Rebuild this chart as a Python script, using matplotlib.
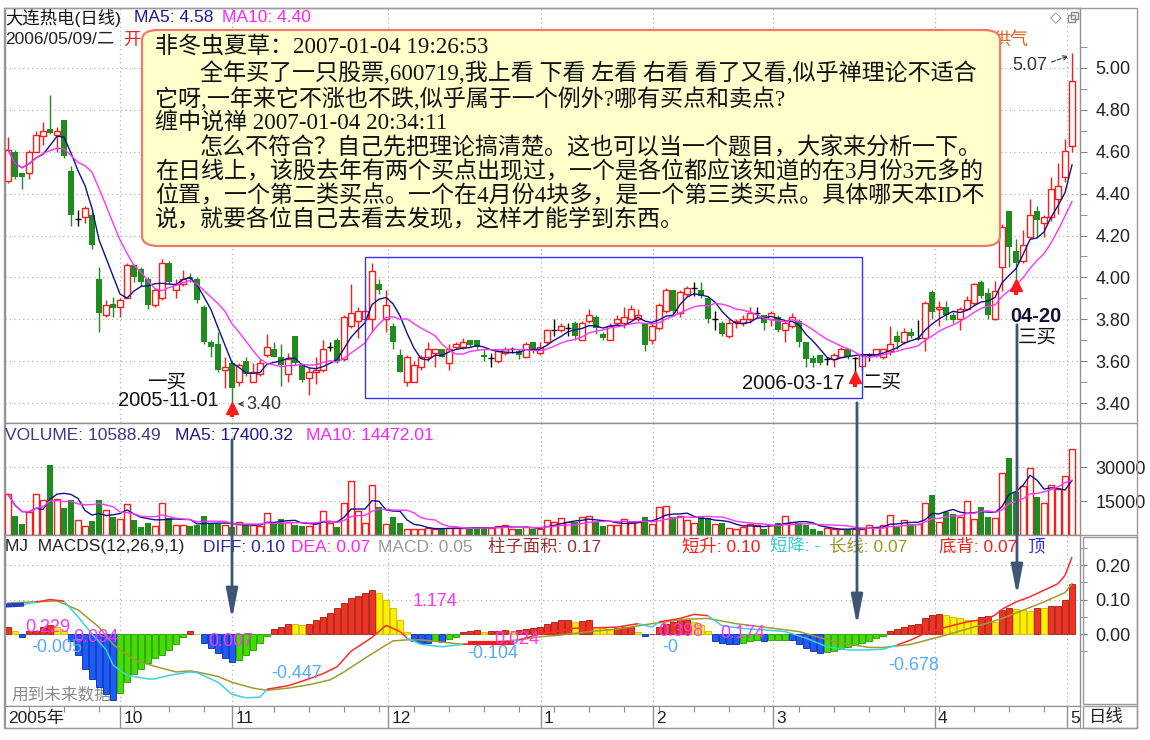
import numpy as np
import pandas as pd
import matplotlib
matplotlib.use("Agg")
import matplotlib.pyplot as plt
from matplotlib.patches import Rectangle, FancyBboxPatch, FancyArrowPatch
from matplotlib.collections import LineCollection
from matplotlib.lines import Line2D

plt.rcParams['font.family'] = ['Liberation Sans', 'Noto Sans CJK SC', 'DejaVu Sans']

W, H = 1150, 740

# ---- 日线数据 (2005-09 ~ 2006-05-09) ----
opens = [
    4.46, 4.60, 4.50, 4.50, 4.60, 4.675, 4.71, 4.68, 4.75, 4.51,
    4.28, 4.29, 4.30, 3.99, 3.82, 3.875, 3.86, 3.90, 4.06, 4.04,
    3.99, 3.87, 3.90, 4.07, 3.94, 3.97, 4.00, 3.99, 3.86, 3.69,
    3.68, 3.56, 3.59, 3.50, 3.60, 3.50, 3.54, 3.63, 3.66, 3.62,
    3.54, 3.72, 3.58, 3.52, 3.55, 3.56, 3.67, 3.70, 3.61, 3.77,
    3.79, 3.80, 3.80, 3.97, 3.80, 3.77, 3.63, 3.50, 3.50, 3.57,
    3.62, 3.64, 3.66, 3.59, 3.67, 3.67, 3.70, 3.70, 3.63, 3.616,
    3.60, 3.64, 3.656, 3.65, 3.62, 3.69, 3.64, 3.69, 3.75, 3.75,
    3.76, 3.78, 3.70, 3.79, 3.81, 3.73, 3.70, 3.78, 3.78, 3.80,
    3.80, 3.78, 3.70, 3.76, 3.84, 3.94, 3.83, 3.92, 3.95, 3.94,
    3.90, 3.80, 3.78, 3.72, 3.785, 3.78, 3.80, 3.83, 3.82, 3.80,
    3.81, 3.75, 3.77, 3.79, 3.69, 3.616, 3.63, 3.61, 3.61, 3.62,
    3.66, 3.616, 3.576, 3.63, 3.63, 3.62, 3.65, 3.72, 3.69, 3.74,
    3.71, 3.71, 3.93, 3.85, 3.86, 3.82, 3.80, 3.85, 3.877, 3.98,
    3.926, 3.80, 4.05, 4.317, 4.125, 4.077, 4.195, 4.317, 4.26, 4.288,
    4.376, 4.48, 4.627]
highs = [
    4.67, 4.61, 4.50, 4.61, 4.70, 4.74, 4.87, 4.72, 4.75, 4.53,
    4.32, 4.34, 4.31, 4.05, 3.89, 3.905, 3.90, 4.07, 4.065, 4.05,
    4.00, 3.95, 4.09, 4.08, 3.99, 4.035, 4.02, 4.00, 3.87, 3.70,
    3.74, 3.62, 3.60, 3.59, 3.62, 3.59, 3.61, 3.73, 3.69, 3.68,
    3.64, 3.72, 3.59, 3.57, 3.62, 3.70, 3.69, 3.71, 3.82, 3.97,
    3.86, 3.86, 4.07, 3.99, 3.94, 3.78, 3.66, 3.63, 3.60, 3.63,
    3.69, 3.66, 3.66, 3.68, 3.69, 3.71, 3.70, 3.70, 3.66, 3.64,
    3.66, 3.67, 3.67, 3.66, 3.69, 3.69, 3.69, 3.755, 3.80, 3.78,
    3.78, 3.79, 3.79, 3.85, 3.82, 3.74, 3.78, 3.82, 3.86, 3.87,
    3.85, 3.78, 3.78, 3.88, 3.95, 3.94, 3.94, 3.96, 3.98, 3.98,
    3.91, 3.84, 3.79, 3.80, 3.80, 3.82, 3.86, 3.86, 3.82, 3.84,
    3.82, 3.79, 3.83, 3.80, 3.69, 3.63, 3.63, 3.62, 3.64, 3.67,
    3.66, 3.62, 3.64, 3.64, 3.66, 3.66, 3.77, 3.745, 3.76, 3.76,
    3.795, 3.885, 3.94, 3.885, 3.885, 3.836, 3.86, 3.91, 3.975, 3.987,
    3.95, 3.984, 4.256, 4.317, 4.184, 4.227, 4.376, 4.34, 4.30, 4.48,
    4.544, 4.66, 5.07]
lows = [
    4.45, 4.47, 4.42, 4.47, 4.60, 4.63, 4.685, 4.60, 4.57, 4.245,
    4.245, 4.26, 4.136, 3.74, 3.81, 3.81, 3.81, 3.90, 3.98, 3.96,
    3.85, 3.86, 3.89, 3.97, 3.90, 3.96, 3.98, 3.88, 3.68, 3.62,
    3.55, 3.47, 3.40, 3.48, 3.53, 3.50, 3.53, 3.62, 3.62, 3.48,
    3.50, 3.58, 3.50, 3.44, 3.49, 3.55, 3.65, 3.59, 3.60, 3.76,
    3.71, 3.79, 3.74, 3.92, 3.74, 3.66, 3.55, 3.48, 3.50, 3.56,
    3.60, 3.57, 3.62, 3.56, 3.66, 3.66, 3.67, 3.66, 3.60, 3.57,
    3.59, 3.63, 3.64, 3.61, 3.62, 3.64, 3.63, 3.68, 3.72, 3.74,
    3.72, 3.70, 3.70, 3.78, 3.73, 3.70, 3.70, 3.77, 3.76, 3.80,
    3.79, 3.65, 3.68, 3.75, 3.83, 3.82, 3.81, 3.91, 3.91, 3.90,
    3.78, 3.75, 3.72, 3.71, 3.76, 3.77, 3.78, 3.81, 3.75, 3.77,
    3.74, 3.69, 3.76, 3.67, 3.57, 3.57, 3.58, 3.58, 3.57, 3.62,
    3.61, 3.55, 3.56, 3.60, 3.62, 3.61, 3.63, 3.66, 3.68, 3.71,
    3.70, 3.65, 3.80, 3.77, 3.795, 3.78, 3.75, 3.845, 3.87, 3.90,
    3.80, 3.795, 3.936, 4.048, 3.99, 4.07, 4.19, 4.195, 4.195, 4.27,
    4.304, 4.456, 4.60]
closes = [
    4.61, 4.48, 4.48, 4.60, 4.68, 4.70, 4.69, 4.70, 4.58, 4.30,
    4.28, 4.33, 4.157, 3.83, 3.87, 3.855, 3.89, 4.06, 4.00, 3.98,
    3.87, 3.94, 4.07, 3.98, 3.97, 3.99, 3.99, 3.89, 3.69, 3.67,
    3.56, 3.57, 3.47, 3.58, 3.54, 3.55, 3.59, 3.67, 3.62, 3.58,
    3.61, 3.59, 3.51, 3.55, 3.56, 3.66, 3.67, 3.60, 3.81, 3.83,
    3.84, 3.84, 4.03, 3.94, 3.87, 3.69, 3.55, 3.62, 3.58, 3.62,
    3.66, 3.66, 3.62, 3.66, 3.68, 3.69, 3.675, 3.67, 3.62, 3.616,
    3.65, 3.66, 3.656, 3.63, 3.68, 3.65, 3.67, 3.75, 3.75, 3.77,
    3.76, 3.72, 3.78, 3.82, 3.76, 3.71, 3.77, 3.80, 3.81, 3.85,
    3.82, 3.675, 3.77, 3.87, 3.94, 3.84, 3.93, 3.95, 3.95, 3.91,
    3.80, 3.80, 3.73, 3.78, 3.79, 3.80, 3.83, 3.83, 3.78, 3.83,
    3.75, 3.78, 3.81, 3.69, 3.61, 3.59, 3.59, 3.61, 3.63, 3.66,
    3.62, 3.616, 3.63, 3.63, 3.656, 3.66, 3.68, 3.69, 3.74, 3.72,
    3.71, 3.88, 3.836, 3.86, 3.82, 3.795, 3.85, 3.89, 3.967, 3.91,
    3.82, 3.934, 4.24, 4.144, 4.07, 4.157, 4.296, 4.275, 4.288, 4.42,
    4.435, 4.605, 4.94]
volumes = [
    17900, 8400, 4700, 10100, 17900, 15400, 30700, 16000, 12000, 15400,
    6600, 4000, 6000, 15400, 11000, 8100, 6900, 13800, 6500, 3700,
    5400, 4000, 14000, 7600, 4300, 4400, 4000, 4300, 8400, 4700,
    4700, 4300, 3500, 5700, 4300, 4400, 4000, 9800, 5100, 6900,
    5900, 4600, 4000, 4000, 5400, 10600, 5400, 3500, 14000, 23800,
    10600, 5400, 22000, 12500, 4900, 7900, 5100, 2800, 2800, 2500,
    3200, 2800, 2800, 3200, 3200, 3200, 3200, 3200, 3200, 3200,
    4000, 4300, 2800, 2800, 3700, 2500, 2800, 6500, 5700, 7400,
    5700, 5700, 7900, 8400, 5700, 4000, 4400, 4500, 6900, 5700,
    5700, 7900, 5000, 12500, 12800, 7900, 8400, 6600, 5400, 8400,
    7400, 5000, 5400, 3200, 2800, 3700, 5000, 4300, 2800, 4300,
    5400, 8400, 5900, 5400, 4400, 2800, 1800, 3200, 2500, 2500,
    2800, 2800, 2800, 4300, 3500, 4300, 8800, 3500, 6500, 4700,
    4700, 14000, 17500, 5700, 10100, 9100, 8100, 15000, 6900, 12500,
    7900, 7600, 27500, 34100, 19000, 21600, 29400, 16900, 14300, 21900,
    20100, 26000, 38100]
macd_bar = [
    0.02, 0.01, -0.01, 0.01, 0.01, 0.02, 0.025, 0.02, 0.01, -0.02,
    -0.06, -0.10, -0.13, -0.155, -0.175, -0.19, -0.17, -0.14, -0.115, -0.10,
    -0.085, -0.07, -0.06, -0.045, -0.03, -0.01, 0.008, 0.0, -0.025, -0.04,
    -0.055, -0.07, -0.08, -0.075, -0.06, -0.045, -0.025, -0.005, 0.015, 0.02,
    0.03, 0.028, 0.027, 0.03, 0.04, 0.05, 0.06, 0.075, 0.09, 0.105,
    0.11, 0.12, 0.127, 0.12, 0.10, 0.075, 0.04, 0.005, -0.02, -0.025,
    -0.025, -0.02, -0.022, -0.015, -0.01, 0.005, 0.01, 0.012, 0.005, 0.008,
    0.01, 0.012, 0.01, 0.012, 0.015, 0.018, 0.02, 0.028, 0.035, 0.04,
    0.042, 0.035, 0.038, 0.04, 0.02, 0.018, 0.015, 0.018, 0.02, 0.02,
    0.005, -0.006, 0.0, 0.02, 0.03, 0.035, 0.04, 0.042, 0.035, 0.025,
    0.01, -0.02, -0.025, -0.03, -0.03, -0.025, -0.02, -0.018, -0.02, -0.018,
    -0.017, -0.016, -0.018, -0.03, -0.04, -0.05, -0.055, -0.052, -0.048, -0.043,
    -0.038, -0.032, -0.027, -0.02, -0.012, -0.005, 0.01, 0.015, 0.02, 0.025,
    0.03, 0.045, 0.055, 0.058, 0.055, 0.05, 0.045, 0.042, 0.04, 0.05,
    0.052, 0.035, 0.07, 0.075, 0.072, 0.07, 0.068, 0.075, 0.074, 0.08,
    0.08, 0.10, 0.145]

# 短线 (红/青) 与 长线 (黄绿)
fast_idx = [0, 2, 4, 6, 8, 10, 12, 14, 15, 17, 20, 21, 23, 26, 27, 30, 32, 34, 36, 37,
            40, 43, 45, 47, 49, 52, 54, 56, 57, 59, 62, 65, 68, 70, 73, 76, 78, 81, 84, 87,
            90, 92, 93, 96, 98, 100, 102, 105, 108, 111, 114, 117, 120, 123, 125, 127, 129,
            131, 134, 137, 140, 141, 142, 144, 146, 148, 150, 151, 152]
fast_val = [0.082, 0.085, 0.092, 0.100, 0.095, 0.050, 0.000, -0.045, -0.090, -0.120,
            -0.130, -0.130, -0.120, -0.110, -0.112, -0.140, -0.175, -0.185, -0.183, -0.160,
            -0.150, -0.130, -0.115, -0.095, -0.050, -0.010, 0.025, 0.007, -0.012, -0.030,
            -0.037, -0.030, -0.027, -0.027, -0.017, 0.000, 0.007, 0.017, 0.018, 0.020,
            0.030, 0.020, 0.035, 0.045, 0.057, 0.053, 0.024, 0.016, 0.012, 0.007,
            -0.012, -0.037, -0.046, -0.046, -0.044, -0.032, -0.017, 0.002, 0.020, 0.035,
            0.045, 0.055, 0.072, 0.093, 0.108, 0.127, 0.146, 0.170, 0.223]
slow_idx = [0, 7, 10, 13, 15, 18, 21, 24, 26, 27, 30, 32, 35, 37, 40, 43, 46, 48, 51, 54,
            55, 57, 59, 65, 68, 70, 73, 76, 79, 81, 84, 87, 92, 97, 100, 104, 108, 113, 118,
            123, 125, 129, 134, 139, 142, 145, 148, 151, 152]
slow_val = [0.090, 0.096, 0.070, 0.020, -0.030, -0.075, -0.094, -0.110, -0.107, -0.110,
            -0.123, -0.140, -0.157, -0.163, -0.157, -0.147, -0.133, -0.110, -0.070, -0.032,
            -0.020, -0.017, -0.017, -0.030, -0.027, -0.022, -0.017, -0.008, -0.003, 0.002,
            0.009, 0.014, 0.030, 0.043, 0.045, 0.030, 0.020, 0.007, -0.022, -0.039,
            -0.039, -0.030, -0.003, 0.026, 0.045, 0.069, 0.093, 0.120, 0.146]
sig_blue_idx, sig_blue_val = [0, 2], [0.083, 0.085]
sig_red_idx, sig_red_val = [66, 72], [-0.027, -0.027]

month_pos = [16, 32, 54.3, 76.1, 92.1, 109.3, 132.4, 151.3]
month_labels = ['10', '11', '12', '1', '2', '3', '4', '5']
price_ticks = [3.40, 3.60, 3.80, 4.00, 4.20, 4.40, 4.60, 4.80, 5.00]
price_minor = [3.50, 3.70, 3.90, 4.10, 4.30, 4.50, 4.70, 4.90, 5.10]
vol_ticks = [15000, 30000]
macd_ticks = [0.00, 0.10, 0.20]
macd_minor = [-0.05, 0.05, 0.15, 0.25]

n = len(closes)
idx = np.arange(n)
o = np.array(opens); hi = np.array(highs); lo = np.array(lows); c = np.array(closes)
vol = np.array(volumes, dtype=float)
mb = np.array(macd_bar)

RED = '#ff1a1a'
GRN = '#1e8c1e'
GRID = '#a8a8a8'

fig = plt.figure(figsize=(W / 100, H / 100), dpi=100)
fig.patch.set_facecolor('white')


def px_axes(l, t, r, b):
    a = fig.add_axes([l / W, 1 - b / H, (r - l) / W, (b - t) / H])
    for s in a.spines.values():
        s.set_color('#909090')
        s.set_linewidth(1)
    a.set_xlim(-0.43, 153.14)
    a.set_xticks([])
    a.yaxis.tick_right()
    a.tick_params(axis='y', which='both', direction='out', colors='#808080',
                  labelcolor='#222222', labelsize=13, length=5, pad=6)
    return a


def grid(a, ys):
    for p in month_pos:
        a.axvline(p, color=GRID, lw=0.8, ls=(0, (1, 3)), zorder=0)
    for y in ys:
        a.axhline(y, color=GRID, lw=0.8, ls=(0, (1, 3)), zorder=0)


def ftext(x, y, s, **kw):
    kw.setdefault('va', 'center')
    kw.setdefault('fontsize', 12.5)
    return fig.text(x / W, 1 - y / H, s, **kw)


def fline(x0, y0, x1, y1, **kw):
    fig.add_artist(Line2D([x0 / W, x1 / W], [1 - y0 / H, 1 - y1 / H],
                          transform=fig.transFigure, **kw))


def farrow(x0, y0, x1, y1, **kw):
    fig.add_artist(FancyArrowPatch((x0 / W, 1 - y0 / H), (x1 / W, 1 - y1 / H),
                                   transform=fig.transFigure, **kw))


# ---------------- K线 ----------------
ax = px_axes(5, 8, 1080, 423)
ax.set_ylim(3.3047, 5.2865)
grid(ax, price_ticks)
up = c > o
dn = c < o
dj = c == o
ax.vlines(idx[up], lo[up], hi[up], color=RED, lw=1, zorder=2)
ax.bar(idx[up], c[up] - o[up], bottom=o[up], width=0.72, facecolor='white',
       edgecolor=RED, lw=1, zorder=3)
ax.vlines(idx[dn], lo[dn], hi[dn], color=GRN, lw=1, zorder=2)
ax.bar(idx[dn], o[dn] - c[dn], bottom=c[dn], width=0.72, color=GRN, zorder=3)
ax.vlines(idx[dj], lo[dj], hi[dj], color='black', lw=1, zorder=2)
ax.hlines(c[dj], idx[dj] - 0.36, idx[dj] + 0.36, color='black', lw=1, zorder=3)
ma5 = pd.Series(c).rolling(5, min_periods=1).mean()
ma10 = pd.Series(c).rolling(10, min_periods=1).mean()
ax.plot(idx, ma5, color='#101090', lw=1, zorder=4)
ax.plot(idx, ma10, color='#ff33ff', lw=1, zorder=4)
ax.set_yticks(price_ticks)
ax.set_yticklabels([f'{v:.2f}' for v in price_ticks])
ax.set_yticks(price_minor, minor=True)

# 中枢框
ax.add_patch(Rectangle((51.0, 3.424), 71.0, 0.673, fill=False, ec='#3333ff', lw=1, zorder=5))


def red_arrow(i, top, bot):
    ax.vlines(i, bot, top, color=RED, lw=3, zorder=6)
    ax.plot(i, top, marker='^', color=RED, ms=8, zorder=6, clip_on=False)


red_arrow(32, 3.378, 3.335)
red_arrow(121, 3.522, 3.476)
red_arrow(144, 3.962, 3.918)

# ---------------- 成交量 ----------------
axv = px_axes(5, 423, 1080, 535)
axv.set_ylim(0, 49412)
grid(axv, vol_ticks)
vup = c >= o
axv.bar(idx[vup], vol[vup], width=0.72, facecolor='white', edgecolor=RED, lw=1, zorder=3)
axv.bar(idx[~vup], vol[~vup], width=0.72, color=GRN, zorder=3)
vma5 = pd.Series(vol).rolling(5, min_periods=1).mean()
vma10 = pd.Series(vol).rolling(10, min_periods=1).mean()
axv.plot(idx, vma5, color='#101090', lw=1, zorder=4)
axv.plot(idx, vma10, color='#ff33ff', lw=1, zorder=4)
axv.set_yticks(vol_ticks)
axv.set_yticklabels([str(v) for v in vol_ticks])

# ---------------- MACD ----------------
axm = px_axes(5, 535, 1080, 706)
axm.set_ylim(-0.2087, 0.287)
grid(axm, [0.10, 0.20])
prev = np.concatenate([[mb[0]], mb[:-1]])
face = np.where(mb >= 0, np.where(mb >= prev, '#ee3322', '#ffee00'),
                np.where(mb <= prev, '#1a5cff', '#44dd00'))
edge = np.where(mb >= 0, np.where(mb >= prev, '#a01a10', '#c8b800'),
                np.where(mb <= prev, '#0a2a9a', '#229900'))
axm.bar(idx, mb, width=0.78, color=face, edgecolor=edge, lw=0.6, zorder=2)
axm.plot(slow_idx, slow_val, color='#a09a30', lw=1.1, zorder=4)
fx = np.array(fast_idx, dtype=float)
fv = np.array(fast_val)
segs = [[(fx[k], fv[k]), (fx[k + 1], fv[k + 1])] for k in range(len(fx) - 1)]
mid = (fx[:-1] + fx[1:]) / 2
fmid = (fv[:-1] + fv[1:]) / 2
seg_cols = np.where(fmid >= np.interp(mid, slow_idx, slow_val), '#ff2a2a', '#3cd0e0')
axm.add_collection(LineCollection(segs, colors=seg_cols, lw=1.1, zorder=5))
axm.plot(sig_blue_idx, sig_blue_val, color='#2040d0', lw=3, zorder=6)
axm.plot(sig_red_idx, sig_red_val, color=RED, lw=3, zorder=6)
axm.set_yticks(macd_ticks)
axm.set_yticklabels([f'{v:.2f}' for v in macd_ticks])
axm.set_yticks(macd_minor, minor=True)
axm.text(0.5, -0.175, '用到未来数据', fontsize=12, color='#8a8a8a', va='center', zorder=1)

# ---------------- 日期轴 ----------------
axd = fig.add_axes([5 / W, 1 - 728 / H, 1075 / W, 22 / H])
axd.set_xlim(-0.43, 153.14)
axd.set_ylim(0, 1)
axd.set_xticks([])
axd.set_yticks([])
for s in axd.spines.values():
    s.set_color('#909090')
for k in range(3, n, 5):
    axd.vlines(k, 0.72, 1, color='#909090', lw=0.8)
for p, lab in zip(month_pos, month_labels):
    axd.axvline(p, color='#909090', lw=1)
    axd.text(p + 0.45, 0.45, lab, fontsize=12.5, va='center', ha='left', color='#222222')
axd.text(0.0, 0.45, '2005年', fontsize=12.5, va='center', ha='left', color='#222222')

# ---------------- 外框 ----------------
fig.add_artist(Rectangle((4 / W, 1 - 728 / H), 1133 / W, 720 / H, fill=False,
                         ec='#9a9a9a', lw=1, transform=fig.transFigure))
fline(1080, 423, 1137, 423, color='#9a9a9a', lw=1)
fline(1080, 535, 1137, 535, color='#9a9a9a', lw=1)
fig.add_artist(Rectangle((1083 / W, 1 - 704 / H), 54 / W, 167 / H, fill=False,
                         ec='#9a9a9a', lw=1, transform=fig.transFigure))
fig.add_artist(Rectangle((1083 / W, 1 - 728 / H), 54 / W, 22 / H, fill=False,
                         ec='#9a9a9a', lw=1, transform=fig.transFigure))
ftext(1089, 717, '日线', fontsize=12.5, color='#222222')
ftext(1050, 18, '◇', fontsize=11, color='#888888', family='DejaVu Sans')
fig.add_artist(Rectangle((1068 / W, 1 - 22 / H), 7 / W, 7 / H, fill=False,
                         ec='#888888', lw=1, transform=fig.transFigure))
fig.add_artist(Rectangle((1071 / W, 1 - 19 / H), 7 / W, 7 / H, fill=False,
                         ec='#888888', lw=1, transform=fig.transFigure))

# ---------------- 标题文字 ----------------
ftext(5, 18, '大连热电(日线)', color='#111111')
ftext(134, 18, 'MA5: 4.58', color='#1a1a8c')
ftext(222, 18, 'MA10: 4.40', color='#ff22ff')
ftext(5, 40, '2006/05/09/二', color='#222222')
ftext(123, 40, '开', color=RED)
ftext(993, 40, '供气', color='#e06020', fontsize=13)

ftext(5, 436, 'VOLUME: 10588.49', color='#3a3a8a')
ftext(175, 436, 'MA5: 17400.32', color='#1a1a8c')
ftext(306, 436, 'MA10: 14472.01', color='#ff22ff')

ftext(5, 547, 'MJ  MACDS(12,26,9,1)', color='#222222')
ftext(203, 547, 'DIFF: 0.10', color='#2a2aaa')
ftext(291, 547, 'DEA: 0.07', color='#ff22ff')
ftext(378, 547, 'MACD: 0.05', color='#9a9a9a')
ftext(488, 547, '柱子面积: 0.17', color='#993333')
ftext(682, 547, '短升: 0.10', color=RED)
ftext(770, 547, '短降: -', color='#33cccc')
ftext(829, 547, '长线: 0.07', color='#999922')
ftext(939, 547, '底背: 0.07', color=RED)
ftext(1027, 547, '顶', color='#2a2aee')

# MACD 数值标注
MAG = '#ff33ff'
BLU = '#55aaff'
for x, y, s, col in [(25, 628, '0.229', MAG), (31, 648, '-0.005', BLU), (73, 637, '0.094', MAG),
                     (208, 642, '0.007', MAG), (271, 673, '-0.447', BLU), (413, 602, '1.174', MAG),
                     (467, 654, '-0.104', BLU), (494, 640, '0.024', MAG), (658, 631, '0.398', MAG),
                     (662, 647, '-0', BLU), (720, 633, '0.174', MAG), (888, 666, '-0.678', BLU)]:
    ftext(x, y, s, color=col, fontsize=13)

# 买点标注
ftext(147, 383, '一买', fontsize=14, color='#111111')
ftext(118, 401, '2005-11-01', fontsize=14.5, color='#111111')
ftext(246, 405, '3.40', fontsize=13, color='#333333')
farrow(246, 404, 235, 404, arrowstyle='->', mutation_scale=8, color='#333333', lw=0.8)
ftext(742, 383, '2006-03-17', fontsize=14.5, color='#111111')
ftext(863, 383, '二买', fontsize=14, color='#111111')
ftext(1010, 316, '04-20', fontsize=14.5, color='#111133', fontweight='bold')
ftext(1018, 338, '三买', fontsize=14, color='#111111')
ftext(1012, 65, '5.07', fontsize=13, color='#333333')
farrow(1049, 63, 1071, 55, arrowstyle='->', mutation_scale=8, color='#333333',
       lw=0.8, linestyle='--')

# 竖向箭头
for x, y0, y1 in [(232, 437, 622), (857, 400, 628), (1017, 322, 598)]:
    farrow(x, y0, x, y1, arrowstyle='-|>,head_length=1.8,head_width=0.35',
           mutation_scale=10, color='#3d5675', lw=2, zorder=12)

# ---------------- 注释框 ----------------
fig.add_artist(FancyBboxPatch((142 / W, 1 - 246 / H), 858 / W, 216 / H,
                              boxstyle='round,pad=0,rounding_size=0.014',
                              transform=fig.transFigure, fc='#ffffcc', ec='#f07a6a',
                              lw=1.6, zorder=10))
box_lines = [
    (155, 47, '非冬虫夏草：2007-01-04 19:26:53'),
    (200, 73, '全年买了一只股票,600719,我上看 下看 左看 右看 看了又看,似乎禅理论不适合'),
    (155, 99, '它呀,一年来它不涨也不跌,似乎属于一个例外?哪有买点和卖点?'),
    (155, 123, '缠中说禅 2007-01-04 20:34:11'),
    (200, 148, '怎么不符合？自己先把理论搞清楚。这也可以当一个题目，大家来分析一下。'),
    (155, 172, '在日线上，该股去年有两个买点出现过，一个是各位都应该知道的在3月份3元多的'),
    (155, 196, '位置，一个第二类买点。一个在4月份4块多，是一个第三类买点。具体哪天本ID不'),
    (155, 220, '说，就要各位自己去看去发现，这样才能学到东西。'),
]
for x, y, s in box_lines:
    ftext(x, y, s, fontsize=16.6, color='#111111', zorder=11,
          family=['Liberation Serif', 'Noto Sans CJK SC'])

fig.savefig('out.png', dpi=100)
